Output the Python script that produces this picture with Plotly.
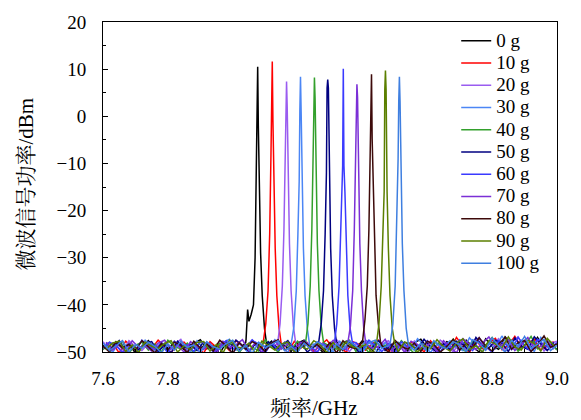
import plotly.graph_objects as go

LABELS = ["0 g", "10 g", "20 g", "30 g", "40 g", "50 g", "60 g", "70 g", "80 g", "90 g", "100 g"]
COLORS = ["#000000", "#ff0000", "#9a5cf0", "#4b86f5", "#33a02c", "#000080",
          "#3a3aff", "#7b2fd6", "#3d0a0a", "#5b7f00", "#3f7fe0"]

NOISE_FREQ_A = [7.60, 7.62, 7.64, 7.66, 7.68, 7.70, 7.72, 7.74, 7.76, 7.78,
                7.80, 7.82, 7.84, 7.86, 7.88, 7.90, 7.92, 7.94, 7.96, 7.98,
                8.00, 8.02, 8.04, 8.06, 8.08, 8.10, 8.12, 8.14, 8.16, 8.18,
                8.20, 8.22, 8.24, 8.26, 8.28, 8.30, 8.32, 8.34, 8.36, 8.38,
                8.40, 8.42, 8.44, 8.46, 8.48, 8.50, 8.52, 8.54, 8.56, 8.58,
                8.60, 8.62, 8.64, 8.66, 8.68, 8.70, 8.72, 8.74, 8.76, 8.78,
                8.80, 8.82, 8.84, 8.86, 8.88, 8.90, 8.92, 8.94, 8.96, 8.98,
                9.00]
NOISE_FREQ_B = [7.61, 7.63, 7.65, 7.67, 7.69, 7.71, 7.73, 7.75, 7.77, 7.79,
                7.81, 7.83, 7.85, 7.87, 7.89, 7.91, 7.93, 7.95, 7.97, 7.99,
                8.01, 8.03, 8.05, 8.07, 8.09, 8.11, 8.13, 8.15, 8.17, 8.19,
                8.21, 8.23, 8.25, 8.27, 8.29, 8.31, 8.33, 8.35, 8.37, 8.39,
                8.41, 8.43, 8.45, 8.47, 8.49, 8.51, 8.53, 8.55, 8.57, 8.59,
                8.61, 8.63, 8.65, 8.67, 8.69, 8.71, 8.73, 8.75, 8.77, 8.79,
                8.81, 8.83, 8.85, 8.87, 8.89, 8.91, 8.93, 8.95, 8.97, 8.99]

NOISE_0 = [-48.6,-49.8,-47.9,-49.2,-48.1,-50.3,-48.8,-47.6,-49.5,-48.3,
           -49.9,-47.8,-48.9,-50.1,-48.2,-47.4,-49.3,-48.7,-50.4,-47.9,
           -48.5,-49.6,-48.0,-49.1,-48.4,-50.0,-47.7,-49.4,-48.6,-49.9,
           -48.1,-47.5,-49.0,-48.8,-50.2,-48.3,-47.8,-49.7,-48.5,-49.2,
           -47.6,-48.9,-50.3,-48.2,-49.5,-47.9,-48.7,-49.8,-48.0,-47.3,
           -49.1,-48.6,-50.1,-47.8,-48.4,-49.6,-47.5,-48.9,-50.0,-47.2,
           -48.8,-49.4,-46.8,-48.3,-49.7,-47.6,-48.9,-46.9,-49.2,-48.1,
           -49.5]
NOISE_10 = [-49.1,-48.2,-50.2,-47.7,-48.9,-49.6,-48.0,-49.3,-47.5,-48.8,
            -50.1,-48.4,-47.9,-49.5,-48.6,-50.3,-47.8,-49.0,-48.3,-49.7,
            -47.6,-48.7,-50.0,-48.1,-49.4,-47.9,-49.8,-48.5,-50.2,-47.7,
            -49.2,-48.0,-49.9,-48.6,-47.4,-49.3,-48.8,-50.1,-47.8,-48.4,
            -49.6,-48.2,-47.5,-49.1,-50.3,-48.7,-49.0,-47.9,-48.5,-50.0,
            -47.6,-49.2,-48.3,-49.7,-46.9,-48.8,-50.1,-47.4,-49.3,-48.0,
            -47.1,-49.5,-48.6,-46.7,-49.0,-48.2,-47.3,-49.6,-48.5,-47.8]
NOISE_20 = [-47.8,-49.4,-48.5,-50.0,-47.6,-48.9,-49.7,-48.2,-50.2,-47.9,
            -49.1,-48.4,-47.3,-49.8,-48.7,-50.1,-48.0,-49.5,-47.7,-48.6,
            -50.3,-48.1,-49.2,-47.5,-48.8,-49.9,-48.3,-47.6,-50.0,-48.9,
            -49.3,-47.8,-48.5,-50.2,-48.0,-49.6,-47.4,-48.7,-49.9,-48.2,
            -50.1,-47.9,-49.0,-48.4,-47.6,-49.7,-48.8,-50.3,-47.7,-49.2,
            -48.3,-49.8,-47.5,-48.6,-50.0,-47.9,-49.4,-48.1,-46.9,-49.6,
            -48.4,-47.2,-49.9,-48.0,-46.8,-49.1,-48.7,-47.4,-49.8,-48.2,
            -47.7]
NOISE_30 = [-48.3,-50.1,-47.7,-49.0,-48.6,-49.8,-47.5,-48.9,-50.2,-48.1,
            -49.4,-47.8,-48.7,-50.0,-47.6,-49.2,-48.4,-49.9,-48.0,-47.3,
            -49.6,-48.8,-50.3,-47.9,-48.5,-49.1,-47.4,-48.9,-50.1,-48.2,
            -49.7,-47.6,-48.3,-49.5,-48.8,-50.0,-47.7,-49.3,-48.1,-49.8,
            -47.5,-48.6,-50.2,-48.0,-49.4,-47.9,-48.7,-49.6,-47.2,-48.5,
            -50.1,-48.3,-49.0,-47.6,-48.9,-49.7,-47.0,-48.4,-50.0,-48.1,
            -49.3,-46.6,-48.8,-49.5,-47.5,-48.2,-49.9,-46.9,-48.6,-49.2]
NOISE_40 = [-49.5,-48.0,-49.0,-47.7,-50.2,-48.6,-47.9,-49.6,-48.3,-50.0,
            -47.5,-48.9,-49.3,-48.1,-50.3,-47.8,-48.6,-49.7,-48.2,-49.1,
            -47.6,-50.1,-48.4,-48.9,-49.8,-47.4,-48.7,-50.0,-48.0,-49.5,
            -47.7,-49.2,-48.5,-50.2,-47.9,-48.8,-49.4,-48.1,-47.5,-49.9,
            -48.6,-50.1,-47.8,-49.0,-48.3,-49.7,-47.6,-48.9,-50.3,-48.2,
            -49.6,-47.9,-48.4,-49.2,-47.3,-48.8,-50.0,-47.7,-49.4,-48.5,
            -46.9,-49.1,-48.0,-47.5,-49.8,-48.6,-46.7,-49.3,-48.1,-47.8,
            -49.6]
NOISE_50 = [-48.0,-49.3,-47.6,-50.0,-48.7,-49.5,-48.2,-47.8,-49.9,-48.5,
            -50.2,-47.7,-49.1,-48.4,-49.7,-47.9,-48.8,-50.1,-48.1,-49.4,
            -47.5,-48.6,-49.8,-48.3,-50.3,-47.8,-49.2,-48.7,-47.6,-49.6,
            -48.0,-50.0,-48.9,-47.4,-49.3,-48.5,-49.9,-47.7,-48.2,-50.2,
            -48.8,-49.1,-47.6,-49.7,-48.4,-50.0,-47.9,-48.6,-49.4,-47.3,
            -48.9,-50.1,-48.2,-49.5,-47.7,-48.4,-49.8,-46.9,-48.7,-49.2,
            -47.5,-48.1,-49.9,-47.0,-48.8,-49.4,-46.8,-48.3,-49.7,-48.0]
NOISE_60 = [-49.2,-47.9,-48.6,-50.1,-48.3,-49.7,-47.5,-48.8,-49.4,-48.0,
            -50.3,-47.7,-49.0,-48.5,-49.9,-47.8,-48.4,-50.0,-48.9,-47.6,
            -49.5,-48.2,-49.1,-47.4,-48.7,-50.2,-48.1,-49.6,-47.9,-48.5,
            -49.8,-47.6,-48.9,-50.0,-48.3,-49.3,-47.7,-48.6,-50.1,-48.0,
            -49.4,-47.5,-48.8,-49.9,-48.2,-50.3,-47.8,-49.0,-48.4,-49.6,
            -47.6,-48.9,-50.0,-48.1,-49.2,-47.4,-48.6,-49.7,-47.1,-48.8,
            -50.1,-47.6,-48.3,-49.5,-46.9,-48.7,-49.9,-47.3,-48.5,-49.1,
            -48.0]
NOISE_70 = [-47.9,-49.6,-48.4,-50.2,-47.6,-49.0,-48.7,-49.8,-48.1,-47.5,
            -49.3,-48.6,-50.0,-47.8,-48.9,-49.5,-48.2,-50.3,-47.7,-49.1,
            -48.5,-47.4,-49.7,-48.0,-50.1,-48.8,-47.6,-49.4,-48.3,-49.9,
            -47.9,-48.6,-50.2,-48.1,-49.0,-47.5,-48.7,-49.6,-48.4,-50.0,
            -47.8,-49.2,-48.9,-47.3,-49.8,-48.2,-50.1,-47.7,-48.5,-49.4,
            -48.0,-49.9,-47.6,-48.8,-50.2,-47.2,-48.4,-49.5,-48.1,-46.8,
            -49.0,-48.6,-47.4,-49.7,-48.3,-46.9,-49.2,-48.8,-47.6,-49.4]
NOISE_80 = [-48.8,-50.0,-47.8,-49.1,-48.4,-49.7,-47.6,-48.9,-50.2,-48.2,
            -49.5,-47.9,-48.6,-50.1,-47.7,-49.2,-48.3,-49.8,-47.5,-48.7,
            -50.3,-48.0,-49.4,-47.8,-48.5,-49.9,-48.1,-47.4,-49.6,-48.8,
            -50.0,-47.7,-49.1,-48.4,-49.7,-48.0,-50.2,-47.6,-48.9,-49.3,
            -48.2,-47.9,-49.8,-48.6,-50.1,-47.5,-48.8,-49.4,-48.1,-49.9,
            -47.7,-48.4,-50.0,-48.9,-47.3,-49.6,-48.2,-49.1,-47.0,-48.7,
            -49.8,-48.3,-46.9,-49.4,-48.0,-47.6,-49.9,-48.5,-46.6,-49.0,
            -48.3]
NOISE_90 = [-49.4,-48.1,-47.7,-49.9,-48.5,-50.1,-47.9,-48.8,-49.3,-48.2,
            -47.6,-50.0,-48.7,-49.5,-48.0,-47.8,-49.8,-48.4,-50.2,-47.5,
            -48.9,-49.2,-48.1,-50.3,-47.7,-48.6,-49.6,-48.3,-47.9,-50.0,
            -48.8,-49.4,-47.6,-48.5,-50.1,-48.0,-49.7,-47.8,-48.9,-49.2,
            -48.4,-50.2,-47.5,-49.0,-48.7,-49.9,-47.9,-48.3,-50.0,-48.6,
            -49.3,-47.4,-48.9,-49.8,-48.1,-47.2,-49.5,-48.7,-50.0,-47.6,
            -48.4,-49.1,-46.8,-48.9,-49.6,-47.5,-48.2,-49.8,-47.1,-48.6]
NOISE_100 = [-48.1,-49.7,-48.7,-47.6,-50.0,-48.4,-49.2,-47.9,-48.8,-50.2,
             -48.3,-49.6,-47.7,-49.0,-48.5,-50.1,-47.8,-48.9,-49.4,-48.2,
             -47.5,-49.8,-48.6,-50.3,-47.9,-49.1,-48.4,-47.6,-49.7,-48.8,
             -50.0,-48.1,-49.3,-47.8,-48.6,-50.2,-48.3,-49.5,-47.7,-48.9,
             -49.9,-48.0,-47.5,-49.2,-48.7,-50.1,-47.9,-48.4,-49.6,-48.2,
             -50.0,-47.6,-48.8,-49.3,-47.8,-48.5,-49.9,-47.4,-48.1,-49.6,
             -47.0,-48.7,-50.0,-47.5,-48.9,-46.7,-49.2,-48.4,-47.3,-49.7,
             -48.6]

PEAK_F_0 = [8.041, 8.046, 8.050, 8.057, 8.064, 8.069, 8.073, 8.075, 8.077, 8.079, 8.082, 8.086, 8.091, 8.098, 8.105]
PEAK_P_0 = [-47.5, -41.0, -43.5, -42.0, -40.0, -30.0, -12.0, 1.5, 10.5, -2.0, -16.0, -29.0, -38.0, -45.0, -48.6]
PEAK_F_10 = [8.094, 8.102, 8.109, 8.114, 8.118, 8.120, 8.122, 8.124, 8.127, 8.131, 8.136, 8.143, 8.150]
PEAK_P_10 = [-48.0, -44.0, -37.0, -25.0, -8.0, -1.0, 11.6, -1.0, -15.0, -28.0, -38.0, -45.0, -48.5]
PEAK_F_20 = [8.138, 8.146, 8.153, 8.158, 8.162, 8.164, 8.166, 8.168, 8.171, 8.175, 8.180, 8.187, 8.194]
PEAK_P_20 = [-48.5, -44.0, -36.0, -24.0, -9.0, 2.0, 7.4, 2.0, -14.0, -27.0, -37.0, -44.5, -48.0]
PEAK_F_30 = [8.181, 8.189, 8.196, 8.201, 8.205, 8.207, 8.209, 8.211, 8.214, 8.218, 8.223, 8.230, 8.237]
PEAK_P_30 = [-48.0, -44.5, -37.0, -25.0, -13.8, 1.0, 8.4, 1.0, -15.0, -28.0, -38.0, -45.0, -48.5]
PEAK_F_40 = [8.224, 8.232, 8.239, 8.244, 8.248, 8.250, 8.252, 8.254, 8.257, 8.261, 8.266, 8.273, 8.280]
PEAK_P_40 = [-48.5, -44.0, -36.0, -24.0, -8.0, 3.8, 8.2, 3.8, -13.0, -27.0, -37.0, -44.5, -48.0]
PEAK_F_50 = [8.265, 8.273, 8.280, 8.285, 8.289, 8.291, 8.293, 8.295, 8.298, 8.302, 8.307, 8.314, 8.321]
PEAK_P_50 = [-48.0, -44.0, -37.0, -25.0, -12.0, 6.0, 7.8, 6.0, -14.0, -28.0, -38.0, -45.0, -48.5]
PEAK_F_60 = [8.313, 8.321, 8.328, 8.333, 8.337, 8.339, 8.341, 8.343, 8.346, 8.350, 8.355, 8.362, 8.369]
PEAK_P_60 = [-48.5, -44.0, -36.0, -25.0, -12.0, -10.5, 10.1, -10.5, -16.0, -28.0, -38.0, -45.0, -48.0]
PEAK_F_70 = [8.355, 8.363, 8.370, 8.375, 8.379, 8.381, 8.383, 8.385, 8.388, 8.392, 8.397, 8.404, 8.411]
PEAK_P_70 = [-48.0, -44.5, -37.0, -24.0, -9.0, 4.0, 6.8, 4.0, -14.0, -27.0, -37.0, -45.0, -48.5]
PEAK_F_80 = [8.400, 8.408, 8.415, 8.420, 8.424, 8.426, 8.428, 8.430, 8.433, 8.437, 8.442, 8.449, 8.456]
PEAK_P_80 = [-48.0, -43.0, -36.0, -24.0, -10.0, -4.8, 8.9, -4.8, -15.0, -28.0, -38.0, -44.0, -48.0]
PEAK_F_90 = [8.443, 8.451, 8.458, 8.463, 8.467, 8.469, 8.471, 8.473, 8.476, 8.480, 8.485, 8.492, 8.499]
PEAK_P_90 = [-48.5, -44.0, -36.0, -25.0, -16.0, 5.7, 9.7, 5.7, -16.0, -28.0, -38.0, -45.0, -48.0]
PEAK_F_100 = [8.486, 8.494, 8.501, 8.506, 8.510, 8.512, 8.514, 8.516, 8.519, 8.523, 8.528, 8.535, 8.542]
PEAK_P_100 = [-48.0, -44.0, -36.0, -24.0, -9.0, 3.2, 8.4, 3.2, -14.0, -27.0, -37.0, -45.0, -48.5]

NOISE_F = [NOISE_FREQ_A, NOISE_FREQ_B] * 6
NOISE_P = [NOISE_0, NOISE_10, NOISE_20, NOISE_30, NOISE_40, NOISE_50,
           NOISE_60, NOISE_70, NOISE_80, NOISE_90, NOISE_100]
PEAK_F = [PEAK_F_0, PEAK_F_10, PEAK_F_20, PEAK_F_30, PEAK_F_40, PEAK_F_50,
          PEAK_F_60, PEAK_F_70, PEAK_F_80, PEAK_F_90, PEAK_F_100]
PEAK_P = [PEAK_P_0, PEAK_P_10, PEAK_P_20, PEAK_P_30, PEAK_P_40, PEAK_P_50,
          PEAK_P_60, PEAK_P_70, PEAK_P_80, PEAK_P_90, PEAK_P_100]

SERIF = "Liberation Serif, Times New Roman, serif"
CJK = "Liberation Serif, Noto Serif CJK SC, Noto Sans CJK SC, serif"

fig = go.Figure()
for i, name in enumerate(LABELS):
    lo, hi = PEAK_F[i][0], PEAK_F[i][-1]
    pts = [(f, p) for f, p in zip(NOISE_F[i], NOISE_P[i]) if f < lo or f > hi]
    pts += list(zip(PEAK_F[i], PEAK_P[i]))
    pts.sort(key=lambda t: t[0])
    fig.add_trace(go.Scatter(
        x=[t[0] for t in pts], y=[t[1] for t in pts], mode="lines",
        name='<span style="font-size:19px">' + name + '</span>',
        line=dict(color=COLORS[i], width=1.5)))

axis_common = dict(showline=True, linecolor="black", linewidth=1, mirror=True,
                   ticks="inside", ticklen=5, tickcolor="black", showgrid=False,
                   zeroline=False, tickfont=dict(family=SERIF, size=19, color="black"))
fig.update_xaxes(range=[7.6, 9.0], tickvals=[7.6, 7.8, 8.0, 8.2, 8.4, 8.6, 8.8, 9.0],
                 ticktext=["7.6", "7.8", "8.0", "8.2", "8.4", "8.6", "8.8", "9.0"],
                 minor=dict(ticks="inside", ticklen=3, dtick=0.1, tickcolor="black"),
                 ticklabelstandoff=9, **axis_common)
fig.update_yaxes(range=[-50, 20], tickvals=[-50, -40, -30, -20, -10, 0, 10, 20],
                 minor=dict(ticks="inside", ticklen=3, dtick=5, tickcolor="black"),
                 ticklabelstandoff=12, **axis_common)

fig.update_layout(
    width=581, height=420,
    margin=dict(l=103, r=23, t=17, b=68),
    paper_bgcolor="white", plot_bgcolor="white",
    font=dict(family=SERIF, size=18, color="black"),
    legend=dict(x=0.778, y=0.992, xanchor="left", yanchor="top",
                bgcolor="rgba(0,0,0,0)", borderwidth=0,
                font=dict(family=SERIF, size=14.8, color="black"),
                tracegroupgap=0),
    annotations=[
        dict(text="频率/GHz", x=0.465, y=-0.17, xref="paper", yref="paper",
             xanchor="center", yanchor="middle", showarrow=False,
             font=dict(family=CJK, size=21, color="black")),
        dict(text="微波信号功率/dBm", x=-0.17, y=0.51, xref="paper", yref="paper",
             xanchor="center", yanchor="middle", textangle=-90, showarrow=False,
             font=dict(family=CJK, size=21, color="black")),
    ],
)

fig.write_html("out.html", post_script="document.body.style.margin='0';",
               config={"displayModeBar": False})
